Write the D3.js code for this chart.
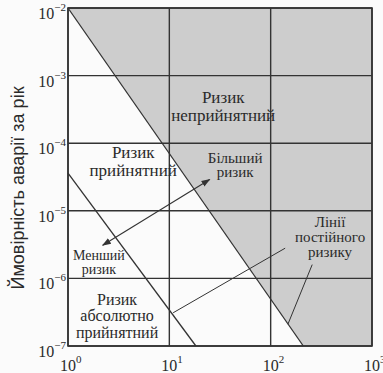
<!DOCTYPE html>
<html>
<head>
<meta charset="utf-8">
<script src="https://cdn.jsdelivr.net/npm/d3@7"></script>
<style>
  body { margin: 0; background: #fbfbfb; }
  svg { display: block; }
</style>
</head>
<body>
<div id="chart"></div>
<script>
// tick values (decades)
const xTicks = [1, 10, 100, 1000];
const yTicks = [1e-2, 1e-3, 1e-4, 1e-5, 1e-6, 1e-7];

// lines of constant risk, [x, y]
const upperLine = [[1, 1e-2], [210, 1e-7]];
const lowerLine = [[1, 3.6e-5], [18.3, 1e-7]];

// double arrow (less risk <-> more risk)
const arrowLine = [[2.2, 3.1e-6], [25, 2.9e-5]];

// leader lines from "Лінії постійного ризику"
const leaderA = [[139, 2.8e-6], [10.9, 3.1e-7]];
const leaderB = [[257, 1.6e-6], [148, 2.1e-7]];

// text labels: anchor point (x, y of first baseline), lines, size
const labels = [
  { x: 34, y: 3.9e-4, lines: ["Ризик", "неприйнятний"], size: 17, gap: 17.5 },
  { x: 4.4, y: 6.0e-5, lines: ["Ризик", "прийнятний"], size: 17, gap: 17.5 },
  { x: 44.6, y: 5.1e-5, lines: ["Більший", "ризик"], size: 15, gap: 14.5 },
  { x: 2.02, y: 1.86e-6, lines: ["Менший", "ризик"], size: 14, gap: 13.5 },
  { x: 3.05, y: 4.1e-7, lines: ["Ризик", "абсолютно", "прийнятний"], size: 16, gap: 16.5 },
  { x: 386, y: 5.7e-6, lines: ["Лінії", "постійного", "ризику"], size: 15, gap: 15 }
];

const margin = { top: 8, left: 68, right: 11, bottom: 27 },
  width = 383 - margin.left - margin.right,
  height = 373 - margin.top - margin.bottom;

const serif = "'Liberation Serif', 'Times New Roman', serif";
const ink = "#333";

const root = d3.select("#chart")
  .append("svg")
    .attr("width", 383)
    .attr("height", 373);

const svg = root.append("g")
  .attr("transform", `translate(${margin.left},${margin.top})`);

const x = d3.scaleLog().domain([1, 1000]).range([0, width]);
const y = d3.scaleLog().domain([1e-7, 1e-2]).range([height, 0]);

const line = d3.line()
  .x(d => x(d[0]))
  .y(d => y(d[1]));

// shaded "unacceptable" region right of the upper line
const shade = [upperLine[0], [1000, 1e-2], [1000, 1e-7], upperLine[1]];
svg.append("path")
  .attr("d", line(shade) + "Z")
  .attr("fill", "#cdcdcd");

// grid
svg.selectAll(".gx")
  .data(xTicks)
  .join("line")
    .attr("x1", d => x(d)).attr("x2", d => x(d))
    .attr("y1", 0).attr("y2", height)
    .attr("stroke", ink)
    .attr("stroke-width", 1.4);

svg.selectAll(".gy")
  .data(yTicks)
  .join("line")
    .attr("y1", d => y(d)).attr("y2", d => y(d))
    .attr("x1", 0).attr("x2", width)
    .attr("stroke", ink)
    .attr("stroke-width", 1.4);

// risk lines
[upperLine, lowerLine].forEach(l => {
  svg.append("path")
    .attr("d", line(l))
    .attr("fill", "none")
    .attr("stroke", ink)
    .attr("stroke-width", 1.3);
});

// leader lines
[leaderA, leaderB].forEach(l => {
  svg.append("path")
    .attr("d", line(l))
    .attr("fill", "none")
    .attr("stroke", ink)
    .attr("stroke-width", 1);
});

// arrow with heads at both ends
root.append("defs").append("marker")
    .attr("id", "head")
    .attr("viewBox", "0 0 10 10")
    .attr("refX", 9).attr("refY", 5)
    .attr("markerWidth", 9).attr("markerHeight", 9)
    .attr("markerUnits", "userSpaceOnUse")
    .attr("orient", "auto-start-reverse")
  .append("path")
    .attr("d", "M0,1.5 L10,5 L0,8.5 Z")
    .attr("fill", ink);

svg.append("path")
  .attr("d", line(arrowLine))
  .attr("fill", "none")
  .attr("stroke", ink)
  .attr("stroke-width", 1.1)
  .attr("marker-start", "url(#head)")
  .attr("marker-end", "url(#head)");

// labels inside the plot
labels.forEach(lb => {
  const t = svg.append("text")
    .attr("x", x(lb.x))
    .attr("y", y(lb.y))
    .attr("text-anchor", "middle")
    .style("font-family", serif)
    .style("font-size", lb.size + "px")
    .attr("fill", "#2a2a2a");
  lb.lines.forEach((s, i) => {
    t.append("tspan")
      .attr("x", x(lb.x))
      .attr("dy", i === 0 ? 0 : lb.gap)
      .text(s);
  });
});

// x tick labels: 10 centered on tick, exponent to the right
const xl = svg.selectAll(".xl")
  .data(xTicks)
  .join("text")
    .attr("x", d => x(d) - 8)
    .attr("y", height + 25)
    .style("font-family", serif)
    .style("font-size", "16px")
    .attr("fill", "#2a2a2a");
xl.append("tspan").text("10");
xl.append("tspan")
  .attr("dy", -8)
  .style("font-size", "11px")
  .text(d => Math.round(Math.log10(d)));

// y tick labels, right aligned to the frame
const yl = svg.selectAll(".yl")
  .data(yTicks)
  .join("text")
    .attr("x", -2)
    .attr("y", d => y(d) + 11)
    .attr("text-anchor", "end")
    .style("font-family", serif)
    .style("font-size", "16px")
    .attr("fill", "#2a2a2a");
yl.append("tspan").text("10");
yl.append("tspan")
  .attr("dy", -8)
  .style("font-size", "11px")
  .text(d => "\u2212" + Math.round(-Math.log10(d)));

// frame
svg.append("rect")
  .attr("width", width)
  .attr("height", height)
  .attr("fill", "none")
  .attr("stroke", ink)
  .attr("stroke-width", 1.6);

// y axis title
root.append("text")
  .attr("transform", `translate(24,${margin.top + 180}) rotate(-90)`)
  .attr("text-anchor", "middle")
  .style("font-family", "'Liberation Sans', Arial, sans-serif")
  .style("font-size", "18px")
  .attr("fill", "#2a2a2a")
  .text("Ймовірність аварії за рік");
</script>
</body>
</html>
